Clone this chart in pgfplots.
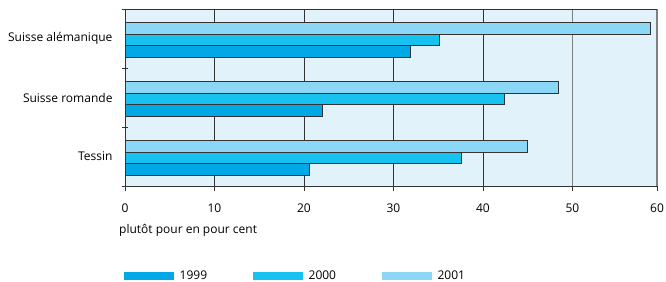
\documentclass[border=0pt]{standalone}
\usepackage{pgfplots}
\pgfplotsset{compat=1.18}
\usepackage{fontspec}
\setmainfont{Open Sans}
\definecolor{c99}{HTML}{00A9E6}
\definecolor{c00}{HTML}{17C1F0}
\definecolor{c01}{HTML}{8BD7F5}
\definecolor{bg}{HTML}{E1F2FA}
\definecolor{dk}{HTML}{333333}
\definecolor{gr}{HTML}{808080}
\begin{document}
\begin{tikzpicture}
\path[use as bounding box] (0,0) rectangle (666bp,-282bp);
\begin{axis}[
  at={(125bp,-9bp)}, anchor=north west,
  scale only axis, width=532bp, height=177bp,
  xmin=0, xmax=59.45, ymin=-0.5, ymax=2.5,
  xbar, bar width=11.5bp,
  axis background/.style={fill=bg},
  axis x line*=bottom, axis y line*=left,
  axis line style={dk, line width=1bp, -},
  font=\fontsize{12bp}{14bp}\selectfont,
  /pgf/number format/assume math mode=true,
  xtick={0,10,20,30,40}, extra x ticks={50,59.45}, extra x tick labels={50,60},
  extra x tick style={grid style={gr, line width=1.4bp}},
  xmajorgrids, grid style={dk, line width=0.8bp},
  xtick align=outside, major tick length=5bp,
  tick style={dk, line width=0.8bp},
  xticklabel style={yshift=-9bp},
  ytick={-0.5,0.5,1.5,2.5}, yticklabels={},
  ytick align=center,
  extra y ticks={0,1,2},
  extra y tick labels={Tessin, Suisse romande, Suisse alémanique},
  extra y tick style={major tick length=0pt, ymajorgrids=false},
  yticklabel style={xshift=-9bp},
  xlabel={plutôt pour en pour cent},
  xlabel style={at={(ticklabel cs:0)}, anchor=north west, xshift=-6bp, inner sep=0pt, yshift=2bp},
  legend style={at={(rel axis cs:0,0)}, anchor=north west, yshift=-85bp, xshift=-1bp,
    draw=none, fill=none, inner sep=0pt, legend columns=3,
    nodes={inner sep=0pt},
    /tikz/every odd column/.append style={column sep=5.5bp},
    /tikz/every even column/.append style={column sep=46bp}},
  legend image code/.code={\fill[#1,draw=none] (0bp,-4bp) rectangle (50bp,4bp);},
]
\addplot[fill=c99, draw=dk, line width=0.8bp, bar shift=-13bp] coordinates {(20.6,0) (22.1,1) (31.9,2)};
\addplot[fill=c00, draw=dk, line width=0.8bp, bar shift=-1.5bp] coordinates {(37.6,0) (42.4,1) (35.1,2)};
\addplot[fill=c01, draw=dk, line width=0.8bp, bar shift=10bp] coordinates {(45.0,0) (48.4,1) (58.7,2)};
\legend{1999,2000,2001}
\draw[dk, line width=1bp] (rel axis cs:0,1) -- (rel axis cs:1,1);
\end{axis}
\end{tikzpicture}
\end{document}
